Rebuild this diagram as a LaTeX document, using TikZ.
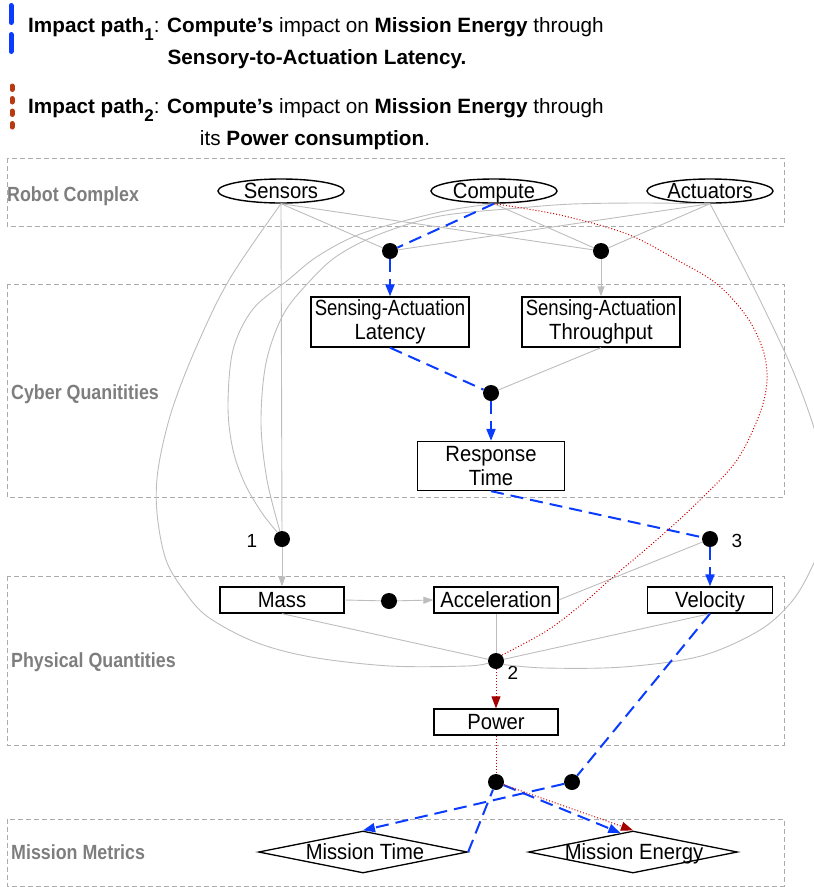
\documentclass[tikz,border=0pt]{standalone}
\usepackage{fontspec}
\setmainfont{Liberation Sans}
\newfontfamily\nodefamily[FakeStretch=0.92]{Liberation Sans}
\newfontfamily\labelfamily[FakeStretch=0.87]{Liberation Sans}
\usetikzlibrary{arrows.meta,shapes.geometric,calc}

\definecolor{edgegray}{HTML}{BDBDBD}
\definecolor{clustergray}{HTML}{ABABAB}
\definecolor{labelgray}{HTML}{7E7E7E}
\definecolor{pathblue}{HTML}{0A3CFF}
\definecolor{pathred}{HTML}{CC0000}
\definecolor{headred}{HTML}{A50000}
\definecolor{legendred}{HTML}{B83A12}

\newcommand{\narrowline}[1]{\scalebox{0.915}[1]{#1}}
\newcommand{\pathindex}[1]{\raisebox{-8pt}{\fontsize{17}{17}\selectfont\bfseries #1}}

\tikzset{
  nodefont/.style={font=\nodefamily\fontsize{22}{23.5}\selectfont},
  oneline/.style={text height=15pt, text depth=0pt},
  legendtext/.style={font=\fontsize{20.7}{24}\selectfont, inner sep=0pt},
  oval/.style={ellipse, draw, line width=1.4pt, minimum width=126pt, minimum height=24pt, inner sep=0pt, nodefont, oneline},
  qbox/.style={rectangle, draw, line width=1.3pt, minimum height=26pt, inner sep=0pt, align=center, nodefont},
  metric/.style={diamond, draw, line width=1.3pt, minimum width=209pt, minimum height=42pt, inner sep=0pt},
  junction/.style={circle, fill=black, minimum size=16pt, inner sep=0pt},
  cluster/.style={draw=clustergray, line width=0.9pt, dash pattern=on 5pt off 3pt},
  clusterlabel/.style={anchor=base west, text=labelgray, font=\labelfamily\fontsize{20.5}{24}\selectfont\bfseries, inner sep=0pt},
  numlabel/.style={font=\fontsize{19}{19}\selectfont, inner sep=0pt},
  gedge/.style={draw=edgegray, line width=0.9pt},
  garrow/.style={gedge, -{Triangle[length=10pt,width=7pt]}},
  bedge/.style={draw=pathblue, line width=2pt, dash pattern=on 13pt off 7pt},
  barrow/.style={bedge, -{Triangle[length=12pt,width=9pt]}},
  redge/.style={draw=pathred, line width=1pt, dash pattern=on 1pt off 2pt},
  rarrow/.style={redge, -{Triangle[length=12pt,width=9pt,color=headred]}},
}

\begin{document}
\begin{tikzpicture}[x=1pt,y=-1pt]
\useasboundingbox (0,0) rectangle (814,887);
\clip (0,0) rectangle (814,887);

% legend of the two impact paths
\draw[pathblue, line width=5pt, line cap=round, dash pattern=on 17pt off 12pt] (11,5.5) -- (11,52);
\draw[legendred, line width=5pt, line cap=round, dash pattern=on 3.5pt off 9pt] (12,86) -- (12,129);
\node[legendtext, anchor=base west] (leg1) at (28,32)
  {\textbf{Impact path}\pathindex{1}: \textbf{Compute’s} impact on \textbf{Mission Energy} through};
\node[legendtext, anchor=base] (leg2) at (317,64) {\textbf{Sensory-to-Actuation Latency.}};
\node[legendtext, anchor=base west] (leg3) at (28,113)
  {\textbf{Impact path}\pathindex{2}: \textbf{Compute’s} impact on \textbf{Mission Energy} through};
\node[legendtext, anchor=base] (leg4) at (315,145) {its \textbf{Power consumption}.};

% layer frames
\draw[cluster] (7,158) rectangle (784,226);
\draw[cluster] (7,284) rectangle (784,497);
\draw[cluster] (7,576) rectangle (784,745);
\draw[cluster] (7,819) rectangle (784,886);
\node[clusterlabel] (lrobot) at (7,201) {Robot Complex};
\node[clusterlabel] (lcyber) at (11,399) {Cyber Quanitities};
\node[clusterlabel] (lphys) at (11,667) {Physical Quantities};
\node[clusterlabel] (lmission) at (11,859) {Mission Metrics};

% robot components
\node[oval] (sensors) at (281,191) {Sensors};
\node[oval] (compute) at (494,191) {Compute};
\node[oval] (actuators) at (710,191) {Actuators};

% cyber quantities
\node[junction] (ja) at (390,251) {};
\node[junction] (jb) at (601,251) {};
\node[qbox, minimum width=158pt, minimum height=50pt] (lat) at (390,322)
  {\narrowline{Sensing-Actuation}\\Latency};
\node[qbox, minimum width=158pt, minimum height=50pt] (thr) at (601,322)
  {\narrowline{Sensing-Actuation}\\Throughput};
\node[junction] (jc) at (491,393) {};
\node[qbox, minimum width=147pt, minimum height=49pt] (rt) at (491,466) {Response\\Time};

% physical quantities
\node[junction] (j1) at (282,539) {};
\node[numlabel] (n1) at (252,541) {1};
\node[junction] (j3) at (710,539) {};
\node[numlabel] (n3) at (737,541) {3};
\node[qbox, oneline, minimum width=124pt] (mass) at (282,600) {Mass};
\node[junction] (jm) at (389,601) {};
\node[qbox, oneline, minimum width=124pt] (acc) at (496,600) {Acceleration};
\node[qbox, oneline, minimum width=125pt] (vel) at (710,600) {Velocity};
\node[junction] (j2) at (496,661) {};
\node[numlabel] (n2) at (513,673) {2};
\node[qbox, oneline, minimum width=124pt] (power) at (496,722) {Power};

% mission metrics
\node[junction] (jp) at (496,782) {};
\node[junction] (jv) at (572,782) {};
\node[metric] (mt) at (363,852) {};
\node[nodefont, oneline, inner sep=0pt] (mttext) at (365,852) {Mission Time};
\node[metric] (me) at (633,852) {};
\node[nodefont, oneline, inner sep=0pt] (metext) at (634,852) {Mission Energy};

% gray dependencies
\draw[gedge] (sensors.south) -- (ja);
\draw[gedge] (sensors.south) -- (jb);
\draw[gedge] (sensors.south) -- (j1);
\draw[gedge] (compute.south) -- (jb);
\draw[gedge] (actuators.south) -- (ja);
\draw[gedge] (actuators.south) -- (jb);
\draw[gedge] plot[smooth, tension=0.55] coordinates {(sensors.south) (229,280) (195,350) (171,413) (158,470) (157,513) (166,560) (185,592) (208,617) (255,642) (311,657) (390,666) (467,666) (j2.195)};
\draw[gedge] plot[smooth, tension=0.55] coordinates {(actuators.south) (750,280) (787,357) (807,407) (820,450) (828,500) (824,535) (813,565) (793,600) (760,630) (701,656) (623,667) (545,668) (j2.-25)};
\draw[gedge] plot[smooth, tension=0.55] coordinates {(compute.south) (440,212) (363,233) (318,256) (288,280) (253,309) (233,350) (228,407) (233,450) (245,484) (262,513) (j1.125)};
\draw[gedge] plot[smooth, tension=0.55] coordinates {(actuators.south) (640,203) (573,204) (519,208) (440,216) (380,234) (337,256) (308,283) (283,315) (266,363) (261,423) (267,480) (j1.105)};
\draw[garrow] (jb) -- (thr.north);
\draw[gedge] (thr.south) -- (jc);
\draw[garrow] (j1) -- (mass.north);
\draw[gedge] (mass.east) -- (jm);
\draw[garrow] (jm) -- (acc.west);
\draw[gedge] (acc.east) -- (j3);
\draw[gedge] (mass.south) -- (j2);
\draw[gedge] (acc.south) -- (j2);
\draw[gedge] (vel.south) -- (j2);

% impact path 1: latency
\draw[bedge] (compute.south) -- (ja);
\draw[barrow] (ja) -- (lat.north);
\draw[bedge] (lat.south) -- (jc);
\draw[barrow] (jc) -- (rt.north);
\draw[bedge] (rt.south) -- (j3);
\draw[barrow] (j3) -- (vel.north);
\draw[bedge] (vel.south) -- (jv);
\draw[barrow] (jv) -- (mt.north);
\draw[bedge] (mt.east) -- (jp);
\draw[barrow] (jp) -- ($(me.north)!0.12!(me.west)$);

% impact path 2: power
\draw[redge] plot[smooth, tension=0.55] coordinates {(compute.south) (560,215) (627,234) (677,260) (717,284) (747,317) (763,350) (767,380) (760,413) (737,460) (700,500) (660,537) (613,577) (587,600) (548,630) (j2.45)};
\draw[rarrow] (j2) -- (power.north);
\draw[redge] (power.south) -- (jp);
\draw[rarrow] (jp) -- (me.north);
\end{tikzpicture}
\end{document}
